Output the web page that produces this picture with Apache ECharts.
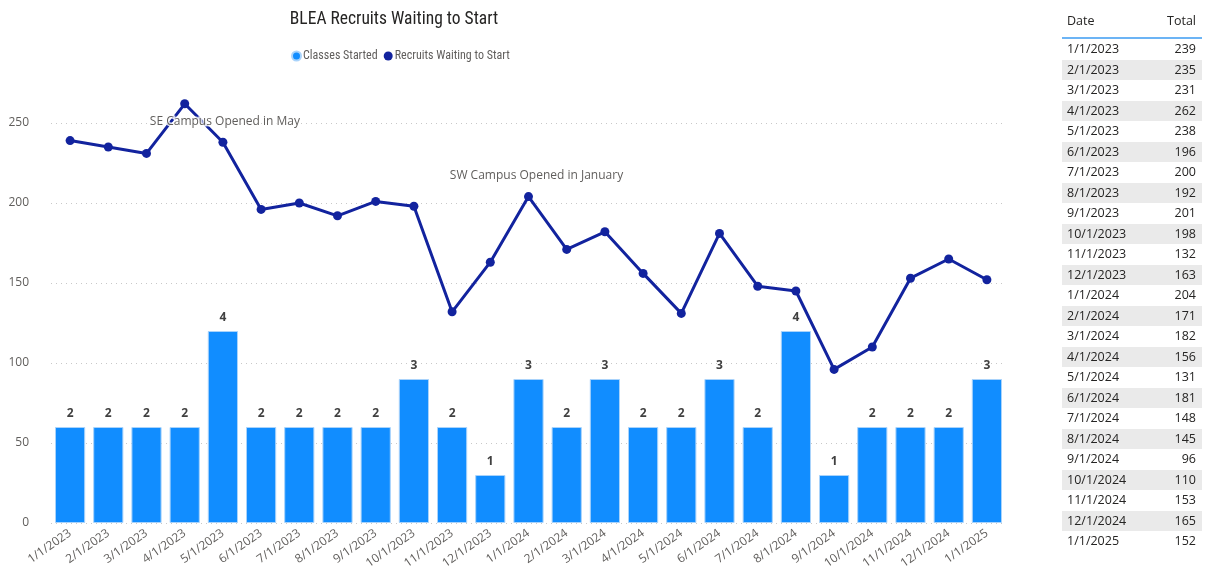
<!DOCTYPE html>
<html>
<head>
<meta charset="utf-8">
<script src="https://cdn.jsdelivr.net/npm/echarts@6/dist/echarts.min.js"></script>
<style>
  html, body { margin: 0; padding: 0; background: #fff; }
  #chart { position: absolute; left: 0; top: 0; width: 1207px; height: 569px; }
  #table { position: absolute; left: 1062px; top: 10px; width: 140px;
           font-family: "Segoe UI", "Open Sans", sans-serif; font-size: 12.5px; color: #252423; }
  #table .head { display: flex; justify-content: space-between; padding: 0 6px 0 5px;
                 height: 27px; line-height: 22px; border-bottom: 2px solid #6cb4f5; color: #252423; }
  #table .row { display: flex; justify-content: space-between; padding: 0 6px 0 5px;
                height: 20.5px; line-height: 20.5px; }
  #table .row:nth-child(even) { background: #eaeaea; }
</style>
</head>
<body>
<div id="chart"></div>
<div id="table"><div class="head"><span>Date</span><span>Total</span></div><div id="rows"></div></div>
<script>
// Data
const months = ['1/1/2023', '2/1/2023', '3/1/2023', '4/1/2023', '5/1/2023', '6/1/2023',
    '7/1/2023', '8/1/2023', '9/1/2023', '10/1/2023', '11/1/2023', '12/1/2023',
    '1/1/2024', '2/1/2024', '3/1/2024', '4/1/2024', '5/1/2024', '6/1/2024',
    '7/1/2024', '8/1/2024', '9/1/2024', '10/1/2024', '11/1/2024', '12/1/2024', '1/1/2025'];
const classesStarted = [2, 2, 2, 2, 4, 2, 2, 2, 2, 3, 2, 1, 3, 2, 3, 2, 2, 3, 2, 4, 1, 2, 2, 2, 3];
const recruitsWaiting = [239, 235, 231, 262, 238, 196, 200, 192, 201, 198, 132, 163,
    204, 171, 182, 156, 131, 181, 148, 145, 96, 110, 153, 165, 152];
const notes = [
    { month: '5/1/2023', value: 251, text: 'SE Campus Opened in May', shift: 2 },
    { month: '1/1/2024', value: 217, text: 'SW Campus Opened in January', shift: 8 }
];

const FONT = '"Segoe UI", "Open Sans", sans-serif';
const NARROW = '"Roboto Condensed", sans-serif';
const Y_MAX = 280;

// Side table
const rows = document.getElementById('rows');
months.forEach((m, i) => {
    const r = document.createElement('div');
    r.className = 'row';
    r.innerHTML = '<span>' + m + '</span><span>' + recruitsWaiting[i] + '</span>';
    rows.appendChild(r);
});

const chart = echarts.init(document.getElementById('chart'));

chart.setOption({
    animation: false,
    title: {
        text: 'BLEA Recruits Waiting to Start',
        left: 389, top: 6, textAlign: 'center',
        textStyle: { fontFamily: NARROW, fontSize: 17.5, fontWeight: 'normal', color: '#252423' }
    },
    legend: {
        left: 286, top: 45,
        icon: 'circle', itemWidth: 9, itemHeight: 9, itemGap: 6,
        textStyle: { fontFamily: NARROW, fontSize: 12, color: '#605e5c', padding: [0, 0, 0, -3] },
        data: ['Classes Started', 'Recruits Waiting to Start']
    },
    grid: { left: 51, right: 201, top: 523 - Y_MAX * 1.6, bottom: 46, outerBoundsMode: 'none' },
    xAxis: {
        type: 'category',
        data: months,
        axisLine: { show: false },
        axisTick: { show: false },
        axisLabel: {
            rotate: 35, interval: 0, margin: 9,
            fontFamily: FONT, fontSize: 12, color: '#605e5c'
        }
    },
    yAxis: [
        {
            type: 'value', min: 0, max: Y_MAX, interval: 50,
            axisLine: { show: false }, axisTick: { show: false },
            axisLabel: { showMaxLabel: false, margin: 22, fontFamily: FONT, fontSize: 12, color: '#605e5c' },
            splitLine: { showMaxLine: false, lineStyle: { color: '#c8c8c8', type: [1, 4], width: 1 } }
        },
        {
            type: 'value', min: 0, max: Y_MAX / 30, show: false,
            splitLine: { show: false }
        }
    ],
    series: [
        {
            name: 'Classes Started',
            type: 'bar',
            yAxisIndex: 1,
            data: classesStarted,
            barCategoryGap: '21%',
            itemStyle: { color: '#118dff', borderColor: '#a9d3fb', borderWidth: 1 },
            label: {
                show: true, position: 'top', distance: 7,
                fontFamily: FONT, fontSize: 12, fontWeight: 'bold', color: '#404040'
            }
        },
        {
            name: 'Recruits Waiting to Start',
            type: 'line',
            yAxisIndex: 0,
            data: recruitsWaiting,
            symbol: 'circle', symbolSize: 9,
            lineStyle: { color: '#12239e', width: 3 },
            itemStyle: { color: '#12239e' },
            z: 3,
            markPoint: {
                symbol: 'circle', symbolSize: 0,
                silent: true,
                data: notes.map(n => ({
                    coord: [n.month, n.value],
                    label: {
                        show: true, position: 'inside', offset: [n.shift, 0],
                        formatter: n.text,
                        fontFamily: FONT, fontSize: 12, color: '#605e5c',
                        textBorderColor: 'rgba(255,255,255,0.8)', textBorderWidth: 3
                    }
                }))
            }
        }
    ]
});
</script>
</body>
</html>
